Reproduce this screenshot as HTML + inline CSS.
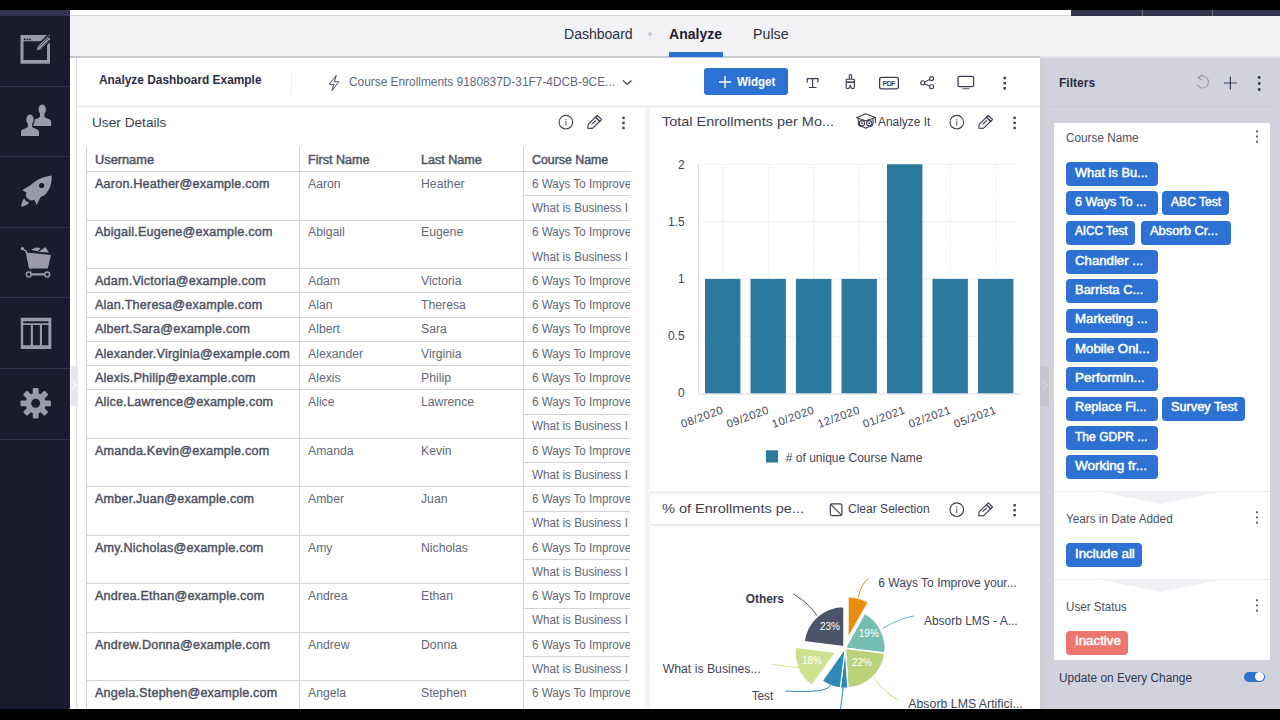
<!DOCTYPE html>
<html lang="en"><head><meta charset="utf-8"><title>Analyze Dashboard Example</title>
<style>
*{box-sizing:border-box;margin:0;padding:0}
html,body{width:1280px;height:720px;overflow:hidden}
body{position:relative;background:#fff;font-family:"Liberation Sans",sans-serif;font-size:12px;color:#5b6271}
.abs{position:absolute}
.t{position:absolute;white-space:nowrap;line-height:1}
#topblack{left:0;top:0;width:1280px;height:10px;background:#000}
#botblack{left:0;top:709px;width:1280px;height:11px;background:#000}
#side{left:0;top:10px;width:70px;height:699px;background:#1b1b2f}
#sidetop{left:0;top:10px;width:70px;height:6px;background:#34354d}
.sep{position:absolute;left:0;width:70px;height:1px;background:#30314a}
#nav{left:70px;top:16px;width:1210px;height:41px;background:#f3f3f6}
#navline{left:70px;top:56.4px;width:1210px;height:1.4px;background:#c9c9d0}
#topline{left:70px;top:15px;width:1001px;height:1px;background:#dadade}
#topdark{left:1071px;top:10px;width:209px;height:6px;background:#34354d}
#filters{left:1040px;top:58px;width:240px;height:651px;background:#d2d2dc}
#fcard{left:1054px;top:122.7px;width:216px;height:537px;background:#fff}
.chip{position:absolute;height:23px;border-radius:3px;background:#2d72d2;color:#fff;font-weight:bold;font-size:12px;line-height:23px;padding-left:9px;white-space:nowrap;overflow:hidden}
.hl{position:absolute;height:1px;background:#d6d6e1}
.vl{position:absolute;width:1px;background:#d6d6e1}
.cell{position:absolute;white-space:nowrap;line-height:1;font-size:12px}
.b{font-weight:bold;color:#4b5060}
</style></head>
<body>
<div class="abs" id="topblack"></div>
<div class="abs" id="side"></div><div class="abs" id="sidetop"></div>
<div class="sep" style="top:86px"></div>
<div class="sep" style="top:156px"></div>
<div class="sep" style="top:227px"></div>
<div class="sep" style="top:297px"></div>
<div class="sep" style="top:368px"></div>
<div class="sep" style="top:439px"></div>
<div class="abs" id="nav"></div><div class="abs" id="topline"></div><div class="abs" id="navline"></div>
<div class="abs" id="topdark"></div>
<div class="abs" style="left:1040px;top:56px;width:240px;height:2px;background:#e6e6ee"></div>
<div class="abs" style="left:1142px;top:10px;width:1px;height:6px;background:#6a6a72"></div>
<div class="abs" style="left:1212px;top:10px;width:1px;height:6px;background:#6a6a72"></div>
<div class="t" style="left:564.4px;top:26.95px;font-size:14px;color:#2a2d40;transform:scaleX(1.0015);transform-origin:0 0;">Dashboard</div>
<div class="abs" style="left:648px;top:32px;width:4px;height:4px;border-radius:2px;background:#c9c9cf"></div>
<div class="t" style="left:669px;top:26.95px;font-size:14px;color:#1d2033;font-weight:bold;transform:scaleX(1.0015);transform-origin:0 0;">Analyze</div>
<div class="t" style="left:752.8px;top:26.95px;font-size:14px;color:#2a2d40;transform:scaleX(1.0162);transform-origin:0 0;">Pulse</div>
<div class="abs" style="left:669px;top:52px;width:54px;height:5px;background:#2d72d2"></div>
<div class="abs" style="left:76px;top:58px;width:1px;height:651px;background:#dcdce2"></div>
<div class="abs" style="left:77px;top:104.8px;width:963px;height:2.8px;background:#f2f2f7"></div>
<div class="abs" style="left:645px;top:105px;width:5px;height:604px;background:#f3f3f8"></div>
<div class="abs" style="left:650px;top:491px;width:390px;height:3px;background:#f1f1f6"></div>
<div class="abs" style="left:650px;top:524px;width:390px;height:1.5px;background:#e9e9ef"></div>
<div class="t" style="left:98.7px;top:73.30px;font-size:13px;color:#2b2e44;font-weight:bold;transform:scaleX(0.9143);transform-origin:0 0;">Analyze Dashboard Example</div>
<div class="abs" style="left:291px;top:70px;width:1px;height:24px;background:#eeeef2"></div>
<div class="t" style="left:349px;top:75.84px;font-size:12px;color:#626878;transform:scaleX(0.9896);transform-origin:0 0;">Course Enrollments 9180837D-31F7-4DCB-9CE...</div>
<div class="abs" style="left:704px;top:68px;width:84px;height:27px;border-radius:3px;background:#2d72d2"></div>
<div class="t" style="left:737px;top:75.84px;font-size:12px;color:#fff;font-weight:bold;transform:scaleX(0.9626);transform-origin:0 0;">Widget</div>
<div class="t" style="left:91.9px;top:115.77px;font-size:13.5px;color:#3c4053;transform:scaleX(1.0118);transform-origin:0 0;">User Details</div>
<div class="t" style="left:661.8px;top:115.17px;font-size:13.5px;color:#3c4053;transform:scaleX(1.0711);transform-origin:0 0;">Total Enrollments per Mo...</div>
<div class="t" style="left:878.2px;top:115.52px;font-size:12.5px;color:#3c4053;transform:scaleX(0.9528);transform-origin:0 0;">Analyze It</div>
<div class="t" style="left:661.8px;top:501.57px;font-size:13.5px;color:#3c4053;transform:scaleX(1.0752);transform-origin:0 0;">% of Enrollments pe...</div>
<div class="t" style="left:848.4px;top:503.42px;font-size:12.5px;color:#3c4053;transform:scaleX(0.9627);transform-origin:0 0;">Clear Selection</div>
<div class="vl" style="left:86px;top:147px;height:562px;background:#d2d2db"></div>
<div class="vl" style="left:299px;top:147px;height:562px;background:#d2d2db"></div>
<div class="vl" style="left:523px;top:147px;height:562px;background:#d2d2db"></div>
<div class="hl" style="left:86px;top:171px;width:544px;height:1px;background:#cdcdd8"></div>
<div class="t" style="left:94.8px;top:153.84px;font-size:12px;color:#4f5465;-webkit-text-stroke:0.45px currentColor;transform:scaleX(1.0658);transform-origin:0 0;">Username</div>
<div class="t" style="left:307.6px;top:153.84px;font-size:12px;color:#4f5465;-webkit-text-stroke:0.45px currentColor;transform:scaleX(1.0482);transform-origin:0 0;">First Name</div>
<div class="t" style="left:421px;top:153.84px;font-size:12px;color:#4f5465;-webkit-text-stroke:0.45px currentColor;transform:scaleX(1.0477);transform-origin:0 0;">Last Name</div>
<div class="t" style="left:532.4px;top:153.84px;font-size:12px;color:#4f5465;-webkit-text-stroke:0.45px currentColor;transform:scaleX(1.0293);transform-origin:0 0;">Course Name</div>
<div class="abs" style="left:524px;top:171px;width:106px;height:538px;overflow:hidden">
<div class="t" style="left:8.4px;top:6.84px;color:#626878;transform:scaleX(0.972);transform-origin:0 0">6 Ways To Improve your Business</div>
<div class="t" style="left:8.4px;top:31.09px;color:#626878;transform:scaleX(0.972);transform-origin:0 0">What is Business I</div>
<div class="t" style="left:8.4px;top:55.34px;color:#626878;transform:scaleX(0.972);transform-origin:0 0">6 Ways To Improve your Business</div>
<div class="t" style="left:8.4px;top:79.59px;color:#626878;transform:scaleX(0.972);transform-origin:0 0">What is Business I</div>
<div class="t" style="left:8.4px;top:103.84px;color:#626878;transform:scaleX(0.972);transform-origin:0 0">6 Ways To Improve your Business</div>
<div class="t" style="left:8.4px;top:128.09px;color:#626878;transform:scaleX(0.972);transform-origin:0 0">6 Ways To Improve your Business</div>
<div class="t" style="left:8.4px;top:152.34px;color:#626878;transform:scaleX(0.972);transform-origin:0 0">6 Ways To Improve your Business</div>
<div class="t" style="left:8.4px;top:176.59px;color:#626878;transform:scaleX(0.972);transform-origin:0 0">6 Ways To Improve your Business</div>
<div class="t" style="left:8.4px;top:200.84px;color:#626878;transform:scaleX(0.972);transform-origin:0 0">6 Ways To Improve your Business</div>
<div class="t" style="left:8.4px;top:225.09px;color:#626878;transform:scaleX(0.972);transform-origin:0 0">6 Ways To Improve your Business</div>
<div class="t" style="left:8.4px;top:249.34px;color:#626878;transform:scaleX(0.972);transform-origin:0 0">What is Business I</div>
<div class="t" style="left:8.4px;top:273.59px;color:#626878;transform:scaleX(0.972);transform-origin:0 0">6 Ways To Improve your Business</div>
<div class="t" style="left:8.4px;top:297.84px;color:#626878;transform:scaleX(0.972);transform-origin:0 0">What is Business I</div>
<div class="t" style="left:8.4px;top:322.09px;color:#626878;transform:scaleX(0.972);transform-origin:0 0">6 Ways To Improve your Business</div>
<div class="t" style="left:8.4px;top:346.34px;color:#626878;transform:scaleX(0.972);transform-origin:0 0">What is Business I</div>
<div class="t" style="left:8.4px;top:370.59px;color:#626878;transform:scaleX(0.972);transform-origin:0 0">6 Ways To Improve your Business</div>
<div class="t" style="left:8.4px;top:394.84px;color:#626878;transform:scaleX(0.972);transform-origin:0 0">What is Business I</div>
<div class="t" style="left:8.4px;top:419.09px;color:#626878;transform:scaleX(0.972);transform-origin:0 0">6 Ways To Improve your Business</div>
<div class="t" style="left:8.4px;top:443.34px;color:#626878;transform:scaleX(0.972);transform-origin:0 0">What is Business I</div>
<div class="t" style="left:8.4px;top:467.59px;color:#626878;transform:scaleX(0.972);transform-origin:0 0">6 Ways To Improve your Business</div>
<div class="t" style="left:8.4px;top:491.84px;color:#626878;transform:scaleX(0.972);transform-origin:0 0">What is Business I</div>
<div class="t" style="left:8.4px;top:516.09px;color:#626878;transform:scaleX(0.972);transform-origin:0 0">6 Ways To Improve your Business</div>
</div>
<div class="t" style="left:95.2px;top:177.84px;-webkit-text-stroke:0.4px currentColor;letter-spacing:0.2px;color:#4b5062;transform:scaleX(1.048);transform-origin:0 0">Aaron.Heather@example.com</div>
<div class="t" style="left:307.6px;top:177.84px;color:#626878;transform:scaleX(1.02);transform-origin:0 0">Aaron</div>
<div class="t" style="left:421px;top:177.84px;color:#626878;transform:scaleX(1.02);transform-origin:0 0">Heather</div>
<div class="hl" style="left:523px;top:195.25px;width:107px;background:#d2d2db"></div>
<div class="hl" style="left:86px;top:219.50px;width:544px;background:#d2d2db"></div>
<div class="t" style="left:95.2px;top:226.34px;-webkit-text-stroke:0.4px currentColor;letter-spacing:0.2px;color:#4b5062;transform:scaleX(1.048);transform-origin:0 0">Abigail.Eugene@example.com</div>
<div class="t" style="left:307.6px;top:226.34px;color:#626878;transform:scaleX(1.02);transform-origin:0 0">Abigail</div>
<div class="t" style="left:421px;top:226.34px;color:#626878;transform:scaleX(1.02);transform-origin:0 0">Eugene</div>
<div class="hl" style="left:86px;top:268.00px;width:544px;background:#d2d2db"></div>
<div class="t" style="left:95.2px;top:274.84px;-webkit-text-stroke:0.4px currentColor;letter-spacing:0.2px;color:#4b5062;transform:scaleX(1.048);transform-origin:0 0">Adam.Victoria@example.com</div>
<div class="t" style="left:307.6px;top:274.84px;color:#626878;transform:scaleX(1.02);transform-origin:0 0">Adam</div>
<div class="t" style="left:421px;top:274.84px;color:#626878;transform:scaleX(1.02);transform-origin:0 0">Victoria</div>
<div class="hl" style="left:86px;top:292.25px;width:544px;background:#d2d2db"></div>
<div class="t" style="left:95.2px;top:299.09px;-webkit-text-stroke:0.4px currentColor;letter-spacing:0.2px;color:#4b5062;transform:scaleX(1.048);transform-origin:0 0">Alan.Theresa@example.com</div>
<div class="t" style="left:307.6px;top:299.09px;color:#626878;transform:scaleX(1.02);transform-origin:0 0">Alan</div>
<div class="t" style="left:421px;top:299.09px;color:#626878;transform:scaleX(1.02);transform-origin:0 0">Theresa</div>
<div class="hl" style="left:86px;top:316.50px;width:544px;background:#d2d2db"></div>
<div class="t" style="left:95.2px;top:323.34px;-webkit-text-stroke:0.4px currentColor;letter-spacing:0.2px;color:#4b5062;transform:scaleX(1.048);transform-origin:0 0">Albert.Sara@example.com</div>
<div class="t" style="left:307.6px;top:323.34px;color:#626878;transform:scaleX(1.02);transform-origin:0 0">Albert</div>
<div class="t" style="left:421px;top:323.34px;color:#626878;transform:scaleX(1.02);transform-origin:0 0">Sara</div>
<div class="hl" style="left:86px;top:340.75px;width:544px;background:#d2d2db"></div>
<div class="t" style="left:95.2px;top:347.59px;-webkit-text-stroke:0.4px currentColor;letter-spacing:0.2px;color:#4b5062;transform:scaleX(1.048);transform-origin:0 0">Alexander.Virginia@example.com</div>
<div class="t" style="left:307.6px;top:347.59px;color:#626878;transform:scaleX(1.02);transform-origin:0 0">Alexander</div>
<div class="t" style="left:421px;top:347.59px;color:#626878;transform:scaleX(1.02);transform-origin:0 0">Virginia</div>
<div class="hl" style="left:86px;top:365.00px;width:544px;background:#d2d2db"></div>
<div class="t" style="left:95.2px;top:371.84px;-webkit-text-stroke:0.4px currentColor;letter-spacing:0.2px;color:#4b5062;transform:scaleX(1.048);transform-origin:0 0">Alexis.Philip@example.com</div>
<div class="t" style="left:307.6px;top:371.84px;color:#626878;transform:scaleX(1.02);transform-origin:0 0">Alexis</div>
<div class="t" style="left:421px;top:371.84px;color:#626878;transform:scaleX(1.02);transform-origin:0 0">Philip</div>
<div class="hl" style="left:86px;top:389.25px;width:544px;background:#d2d2db"></div>
<div class="t" style="left:95.2px;top:396.09px;-webkit-text-stroke:0.4px currentColor;letter-spacing:0.2px;color:#4b5062;transform:scaleX(1.048);transform-origin:0 0">Alice.Lawrence@example.com</div>
<div class="t" style="left:307.6px;top:396.09px;color:#626878;transform:scaleX(1.02);transform-origin:0 0">Alice</div>
<div class="t" style="left:421px;top:396.09px;color:#626878;transform:scaleX(1.02);transform-origin:0 0">Lawrence</div>
<div class="hl" style="left:523px;top:413.50px;width:107px;background:#d2d2db"></div>
<div class="hl" style="left:86px;top:437.75px;width:544px;background:#d2d2db"></div>
<div class="t" style="left:95.2px;top:444.59px;-webkit-text-stroke:0.4px currentColor;letter-spacing:0.2px;color:#4b5062;transform:scaleX(1.048);transform-origin:0 0">Amanda.Kevin@example.com</div>
<div class="t" style="left:307.6px;top:444.59px;color:#626878;transform:scaleX(1.02);transform-origin:0 0">Amanda</div>
<div class="t" style="left:421px;top:444.59px;color:#626878;transform:scaleX(1.02);transform-origin:0 0">Kevin</div>
<div class="hl" style="left:523px;top:462.00px;width:107px;background:#d2d2db"></div>
<div class="hl" style="left:86px;top:486.25px;width:544px;background:#d2d2db"></div>
<div class="t" style="left:95.2px;top:493.09px;-webkit-text-stroke:0.4px currentColor;letter-spacing:0.2px;color:#4b5062;transform:scaleX(1.048);transform-origin:0 0">Amber.Juan@example.com</div>
<div class="t" style="left:307.6px;top:493.09px;color:#626878;transform:scaleX(1.02);transform-origin:0 0">Amber</div>
<div class="t" style="left:421px;top:493.09px;color:#626878;transform:scaleX(1.02);transform-origin:0 0">Juan</div>
<div class="hl" style="left:523px;top:510.50px;width:107px;background:#d2d2db"></div>
<div class="hl" style="left:86px;top:534.75px;width:544px;background:#d2d2db"></div>
<div class="t" style="left:95.2px;top:541.59px;-webkit-text-stroke:0.4px currentColor;letter-spacing:0.2px;color:#4b5062;transform:scaleX(1.048);transform-origin:0 0">Amy.Nicholas@example.com</div>
<div class="t" style="left:307.6px;top:541.59px;color:#626878;transform:scaleX(1.02);transform-origin:0 0">Amy</div>
<div class="t" style="left:421px;top:541.59px;color:#626878;transform:scaleX(1.02);transform-origin:0 0">Nicholas</div>
<div class="hl" style="left:523px;top:559.00px;width:107px;background:#d2d2db"></div>
<div class="hl" style="left:86px;top:583.25px;width:544px;background:#d2d2db"></div>
<div class="t" style="left:95.2px;top:590.09px;-webkit-text-stroke:0.4px currentColor;letter-spacing:0.2px;color:#4b5062;transform:scaleX(1.048);transform-origin:0 0">Andrea.Ethan@example.com</div>
<div class="t" style="left:307.6px;top:590.09px;color:#626878;transform:scaleX(1.02);transform-origin:0 0">Andrea</div>
<div class="t" style="left:421px;top:590.09px;color:#626878;transform:scaleX(1.02);transform-origin:0 0">Ethan</div>
<div class="hl" style="left:523px;top:607.50px;width:107px;background:#d2d2db"></div>
<div class="hl" style="left:86px;top:631.75px;width:544px;background:#d2d2db"></div>
<div class="t" style="left:95.2px;top:638.59px;-webkit-text-stroke:0.4px currentColor;letter-spacing:0.2px;color:#4b5062;transform:scaleX(1.048);transform-origin:0 0">Andrew.Donna@example.com</div>
<div class="t" style="left:307.6px;top:638.59px;color:#626878;transform:scaleX(1.02);transform-origin:0 0">Andrew</div>
<div class="t" style="left:421px;top:638.59px;color:#626878;transform:scaleX(1.02);transform-origin:0 0">Donna</div>
<div class="hl" style="left:523px;top:656.00px;width:107px;background:#d2d2db"></div>
<div class="hl" style="left:86px;top:680.25px;width:544px;background:#d2d2db"></div>
<div class="t" style="left:95.2px;top:687.09px;-webkit-text-stroke:0.4px currentColor;letter-spacing:0.2px;color:#4b5062;transform:scaleX(1.048);transform-origin:0 0">Angela.Stephen@example.com</div>
<div class="t" style="left:307.6px;top:687.09px;color:#626878;transform:scaleX(1.02);transform-origin:0 0">Angela</div>
<div class="t" style="left:421px;top:687.09px;color:#626878;transform:scaleX(1.02);transform-origin:0 0">Stephen</div>
<svg class="abs" style="left:650px;top:140px" width="390" height="350" viewBox="650 140 390 350" font-family='"Liberation Sans", sans-serif'><text x="684.6" y="397" text-anchor="end" font-size="12" fill="#3f4457">0</text><line x1="698.5" x2="1017" y1="336.2" y2="336.2" stroke="#d6d6de" stroke-width="1" stroke-dasharray="1 2"/><text x="684.6" y="340" text-anchor="end" font-size="12" fill="#3f4457">0.5</text><line x1="698.5" x2="1017" y1="278.9" y2="278.9" stroke="#d6d6de" stroke-width="1" stroke-dasharray="1 2"/><text x="684.6" y="283" text-anchor="end" font-size="12" fill="#3f4457">1</text><line x1="698.5" x2="1017" y1="221.6" y2="221.6" stroke="#d6d6de" stroke-width="1" stroke-dasharray="1 2"/><text x="684.6" y="226" text-anchor="end" font-size="12" fill="#3f4457">1.5</text><line x1="698.5" x2="1017" y1="164.3" y2="164.3" stroke="#d6d6de" stroke-width="1" stroke-dasharray="1 2"/><text x="684.6" y="169" text-anchor="end" font-size="12" fill="#3f4457">2</text><line x1="722.75" x2="722.75" y1="164.3" y2="393.5" stroke="#d6d6de" stroke-width="1" stroke-dasharray="1 2"/><line x1="768.25" x2="768.25" y1="164.3" y2="393.5" stroke="#d6d6de" stroke-width="1" stroke-dasharray="1 2"/><line x1="813.75" x2="813.75" y1="164.3" y2="393.5" stroke="#d6d6de" stroke-width="1" stroke-dasharray="1 2"/><line x1="859.25" x2="859.25" y1="164.3" y2="393.5" stroke="#d6d6de" stroke-width="1" stroke-dasharray="1 2"/><line x1="904.75" x2="904.75" y1="164.3" y2="393.5" stroke="#d6d6de" stroke-width="1" stroke-dasharray="1 2"/><line x1="950.25" x2="950.25" y1="164.3" y2="393.5" stroke="#d6d6de" stroke-width="1" stroke-dasharray="1 2"/><line x1="995.75" x2="995.75" y1="164.3" y2="393.5" stroke="#d6d6de" stroke-width="1" stroke-dasharray="1 2"/><rect x="705.0" y="278.9" width="35.4" height="114.6" fill="#2b7a9e"/><text transform="translate(724.2,412.9) rotate(-20)" text-anchor="end" font-size="11.2" letter-spacing="0.55" fill="#3f4457">08/2020</text><rect x="750.5" y="278.9" width="35.4" height="114.6" fill="#2b7a9e"/><text transform="translate(769.8,412.9) rotate(-20)" text-anchor="end" font-size="11.2" letter-spacing="0.55" fill="#3f4457">09/2020</text><rect x="796.0" y="278.9" width="35.4" height="114.6" fill="#2b7a9e"/><text transform="translate(815.2,412.9) rotate(-20)" text-anchor="end" font-size="11.2" letter-spacing="0.55" fill="#3f4457">10/2020</text><rect x="841.5" y="278.9" width="35.4" height="114.6" fill="#2b7a9e"/><text transform="translate(860.8,412.9) rotate(-20)" text-anchor="end" font-size="11.2" letter-spacing="0.55" fill="#3f4457">12/2020</text><rect x="887.0" y="164.3" width="35.4" height="229.2" fill="#2b7a9e"/><text transform="translate(906.2,412.9) rotate(-20)" text-anchor="end" font-size="11.2" letter-spacing="0.55" fill="#3f4457">01/2021</text><rect x="932.5" y="278.9" width="35.4" height="114.6" fill="#2b7a9e"/><text transform="translate(951.8,412.9) rotate(-20)" text-anchor="end" font-size="11.2" letter-spacing="0.55" fill="#3f4457">02/2021</text><rect x="978.0" y="278.9" width="35.4" height="114.6" fill="#2b7a9e"/><text transform="translate(997.2,412.9) rotate(-20)" text-anchor="end" font-size="11.2" letter-spacing="0.55" fill="#3f4457">05/2021</text><line x1="698.5" x2="698.5" y1="164.3" y2="393.5" stroke="#d9d9e2" stroke-width="1"/><line x1="698.5" x2="1021" y1="394.0" y2="394.0" stroke="#d9d9e2" stroke-width="1"/><rect x="766" y="450.3" width="12" height="12.2" fill="#2b7a9e"/><text x="785.8" y="461.8" font-size="12" fill="#3f4457">#&#160;of unique Course Name</text></svg>
<svg class="abs" style="left:650px;top:528px" width="390" height="181" viewBox="650 528 390 181" font-family='"Liberation Sans", sans-serif'><path d="M848.23,637.08L848.23,597.08A40,40 0 0 1 867.92,602.26Z" fill="#e88d0e" stroke="#fff" stroke-width="0.8" stroke-linejoin="round"/><path d="M845.30,648.20L864.57,613.15A40,40 0 0 1 884.98,653.21Z" fill="#74bfb1" stroke="#fff" stroke-width="1.6" stroke-linejoin="round"/><path d="M845.30,648.20L884.98,653.21A40,40 0 0 1 847.81,688.12Z" fill="#bad27a" stroke="#fff" stroke-width="1.6" stroke-linejoin="round"/><path d="M845.30,648.20L847.81,688.12A40,40 0 0 1 840.29,687.88Z" fill="#2e88b8" stroke="#fff" stroke-width="1.2" stroke-linejoin="round"/><path d="M845.30,648.20L840.29,687.88A40,40 0 0 1 822.36,680.97Z" fill="#2e88b8" stroke="#fff" stroke-width="1.2" stroke-linejoin="round"/><path d="M835.20,652.57L811.69,684.93A40,40 0 0 1 795.52,647.56Z" fill="#cfe190" stroke="#fff" stroke-width="0.8" stroke-linejoin="round"/><path d="M843.85,646.55L804.16,641.54A40,40 0 0 1 843.85,606.55Z" fill="#4d5469" stroke="#fff" stroke-width="1.2" stroke-linejoin="round"/><path d="M858.5,597 C860,589 863,583 868.5,578.3" fill="none" stroke="#e88d0e" stroke-width="1"/><path d="M882.5,628.5 C892,623 902,618 914,616" fill="none" stroke="#6fb4c4" stroke-width="1"/><path d="M873.5,677 C879,685 887,694 897.5,699.5" fill="none" stroke="#cfdc86" stroke-width="1"/><path d="M843.3,686.5 C842.5,694 841.5,702 840.5,709" fill="none" stroke="#2e88b8" stroke-width="1"/><path d="M830.5,685 C828,691 812,692.5 785.5,691" fill="none" stroke="#2e88b8" stroke-width="1"/><path d="M798.5,667.7 C790,667 782,665.5 771.7,664.3" fill="none" stroke="#d5e39b" stroke-width="1"/><path d="M817,615.7 C811,607 805,601 793.3,594" fill="none" stroke="#4d5469" stroke-width="1"/><text x="830" y="629.5" text-anchor="middle" font-size="10" fill="#fff">23%</text><text x="868.8" y="636.8" text-anchor="middle" font-size="10" fill="#fff">19%</text><text x="862" y="665.8" text-anchor="middle" font-size="10" fill="#fff">22%</text><text x="812" y="663.5" text-anchor="middle" font-size="10" fill="#fff">18%</text><text x="745.7" y="602.7" font-size="12" font-weight="bold" fill="#33374b" textLength="38.3" lengthAdjust="spacingAndGlyphs">Others</text><text x="878.3" y="586.7" font-size="12" fill="#3f4457" textLength="138.4" lengthAdjust="spacingAndGlyphs">6 Ways To Improve your...</text><text x="924" y="625" font-size="12" fill="#3f4457" textLength="93.7" lengthAdjust="spacingAndGlyphs">Absorb LMS - A...</text><text x="908.3" y="707.7" font-size="12" fill="#3f4457" textLength="114.4" lengthAdjust="spacingAndGlyphs">Absorb LMS Artifici...</text><text x="662.7" y="673.3" font-size="12" fill="#3f4457" textLength="98" lengthAdjust="spacingAndGlyphs">What is Busines...</text><text x="751.7" y="700" font-size="12" fill="#3f4457" textLength="21.6" lengthAdjust="spacingAndGlyphs">Test</text></svg>
<div class="abs" id="filters"></div><div class="abs" id="fcard"></div>
<div class="abs" style="left:1040px;top:58px;width:3.5px;height:651px;background:#d0d0d2"></div>
<div class="abs" style="left:1050px;top:105.7px;width:222px;height:1.3px;background:#c9c9d3"></div>
<div class="t" style="left:1059.2px;top:76.00px;font-size:13px;color:#2b2e44;font-weight:bold;transform:scaleX(0.9278);transform-origin:0 0;">Filters</div>
<div class="t" style="left:1065.9px;top:131.54px;font-size:12px;color:#4a4f60;transform:scaleX(0.9807);transform-origin:0 0;">Course Name</div>
<div class="t" style="left:1066px;top:512.64px;font-size:12px;color:#4a4f60;transform:scaleX(0.9790);transform-origin:0 0;">Years in Date Added</div>
<div class="t" style="left:1066px;top:600.54px;font-size:12px;color:#4a4f60;transform:scaleX(0.9696);transform-origin:0 0;">User Status</div>
<div class="t" style="left:1059.1px;top:671.74px;font-size:12px;color:#33374b;transform:scaleX(0.9869);transform-origin:0 0;">Update on Every Change</div>
<div class="abs" style="left:1065.9px;top:162.00px;width:92.1px;height:24px;border-radius:4px;background:#2d72d2"></div>
<div class="t" style="left:1074.7px;top:166.64px;font-size:12px;color:#fff;-webkit-text-stroke:0.45px currentColor;transform:scaleX(1.0701);transform-origin:0 0;">What is Bu...</div>
<div class="abs" style="left:1065.9px;top:191.32px;width:92.1px;height:24px;border-radius:4px;background:#2d72d2"></div>
<div class="t" style="left:1074.7px;top:195.96px;font-size:12px;color:#fff;-webkit-text-stroke:0.45px currentColor;transform:scaleX(1.0407);transform-origin:0 0;">6 Ways To ...</div>
<div class="abs" style="left:1162.3px;top:191.32px;width:66.8px;height:24px;border-radius:4px;background:#2d72d2"></div>
<div class="t" style="left:1171.1px;top:195.96px;font-size:12px;color:#fff;-webkit-text-stroke:0.45px currentColor;transform:scaleX(1.0078);transform-origin:0 0;">ABC Test</div>
<div class="abs" style="left:1065.9px;top:220.64px;width:69px;height:24px;border-radius:4px;background:#2d72d2"></div>
<div class="t" style="left:1074.7px;top:225.28px;font-size:12px;color:#fff;-webkit-text-stroke:0.45px currentColor;transform:scaleX(0.9778);transform-origin:0 0;">AICC Test</div>
<div class="abs" style="left:1141.2px;top:220.64px;width:89.7px;height:24px;border-radius:4px;background:#2d72d2"></div>
<div class="t" style="left:1150.0px;top:225.28px;font-size:12px;color:#fff;-webkit-text-stroke:0.45px currentColor;transform:scaleX(1.0732);transform-origin:0 0;">Absorb Cr...</div>
<div class="abs" style="left:1065.9px;top:249.96px;width:92.1px;height:24px;border-radius:4px;background:#2d72d2"></div>
<div class="t" style="left:1074.7px;top:254.60px;font-size:12px;color:#fff;-webkit-text-stroke:0.45px currentColor;transform:scaleX(1.1008);transform-origin:0 0;">Chandler ...</div>
<div class="abs" style="left:1065.9px;top:279.28px;width:92.1px;height:24px;border-radius:4px;background:#2d72d2"></div>
<div class="t" style="left:1074.7px;top:283.92px;font-size:12px;color:#fff;-webkit-text-stroke:0.45px currentColor;transform:scaleX(1.0780);transform-origin:0 0;">Barrista C...</div>
<div class="abs" style="left:1065.9px;top:308.60px;width:92.1px;height:24px;border-radius:4px;background:#2d72d2"></div>
<div class="t" style="left:1074.7px;top:313.24px;font-size:12px;color:#fff;-webkit-text-stroke:0.45px currentColor;transform:scaleX(1.1025);transform-origin:0 0;">Marketing ...</div>
<div class="abs" style="left:1065.9px;top:337.92px;width:92.1px;height:24px;border-radius:4px;background:#2d72d2"></div>
<div class="t" style="left:1074.7px;top:342.56px;font-size:12px;color:#fff;-webkit-text-stroke:0.45px currentColor;transform:scaleX(1.1075);transform-origin:0 0;">Mobile Onl...</div>
<div class="abs" style="left:1065.9px;top:367.24px;width:92.1px;height:24px;border-radius:4px;background:#2d72d2"></div>
<div class="t" style="left:1074.7px;top:371.88px;font-size:12px;color:#fff;-webkit-text-stroke:0.45px currentColor;transform:scaleX(1.1239);transform-origin:0 0;">Performin...</div>
<div class="abs" style="left:1065.9px;top:396.56px;width:92.1px;height:24px;border-radius:4px;background:#2d72d2"></div>
<div class="t" style="left:1074.7px;top:401.20px;font-size:12px;color:#fff;-webkit-text-stroke:0.45px currentColor;transform:scaleX(1.0615);transform-origin:0 0;">Replace Fi...</div>
<div class="abs" style="left:1162.3px;top:396.56px;width:82.7px;height:24px;border-radius:4px;background:#2d72d2"></div>
<div class="t" style="left:1171.1px;top:401.20px;font-size:12px;color:#fff;-webkit-text-stroke:0.45px currentColor;transform:scaleX(1.0611);transform-origin:0 0;">Survey Test</div>
<div class="abs" style="left:1065.9px;top:425.88px;width:92.1px;height:24px;border-radius:4px;background:#2d72d2"></div>
<div class="t" style="left:1074.7px;top:430.52px;font-size:12px;color:#fff;-webkit-text-stroke:0.45px currentColor;transform:scaleX(1.0051);transform-origin:0 0;">The GDPR ...</div>
<div class="abs" style="left:1065.9px;top:455.20px;width:92.1px;height:24px;border-radius:4px;background:#2d72d2"></div>
<div class="t" style="left:1074.7px;top:459.84px;font-size:12px;color:#fff;-webkit-text-stroke:0.45px currentColor;transform:scaleX(1.1270);transform-origin:0 0;">Working fr...</div>
<div class="abs" style="left:1065.9px;top:542.90px;width:76.1px;height:24px;border-radius:4px;background:#2d72d2"></div>
<div class="t" style="left:1074.7px;top:547.54px;font-size:12px;color:#fff;-webkit-text-stroke:0.45px currentColor;transform:scaleX(1.1064);transform-origin:0 0;">Include all</div>
<div class="abs" style="left:1065.9px;top:630.80px;width:62.1px;height:24px;border-radius:4px;background:#ee7671"></div>
<div class="t" style="left:1074.7px;top:635.44px;font-size:12px;color:#fff;-webkit-text-stroke:0.45px currentColor;transform:scaleX(1.1098);transform-origin:0 0;">Inactive</div>
<div class="abs" style="left:1054px;top:491px;width:216px;height:1px;background:#ececf1"></div>
<svg class="abs" style="left:1097px;top:491px" width="128" height="14"><path d="M0,0H128L64,13Z" fill="#f0f0f5"/></svg>
<div class="abs" style="left:1054px;top:578.5px;width:216px;height:1px;background:#ececf1"></div>
<svg class="abs" style="left:1097px;top:578.5px" width="128" height="14"><path d="M0,0H128L64,13Z" fill="#f0f0f5"/></svg>
<div class="abs" style="left:1244px;top:671.5px;width:21px;height:10.5px;border-radius:6px;background:#2d72d2"></div>
<div class="abs" style="left:1255.3px;top:672.3px;width:9px;height:9px;border-radius:5px;background:#fff"></div>
<svg class="abs" style="left:0;top:16px" width="70" height="440" viewBox="0 16 70 440"><path d="M20.5,35H50V63.7H20.5Z M23.5,41.2V60H47V41.2Z" fill="#9a9aab" fill-rule="evenodd"/><rect x="24" y="38.6" width="1.6" height="1.6" fill="#1b1b2f"/><rect x="26.6" y="38.6" width="1.6" height="1.6" fill="#1b1b2f"/><rect x="29.2" y="38.6" width="1.6" height="1.6" fill="#1b1b2f"/><path d="M35.8,51.3L37.1,46L47.6,35.5L51.6,39.4L41.1,50Z" fill="#9a9aab" stroke="#1b1b2f" stroke-width="1.6" stroke-linejoin="round"/><path d="M38.6,47.3L47.4,38.4M40.2,48.9L49,40M45.6,37.4L49.7,41.4" stroke="#1b1b2f" stroke-width="0.6" fill="none"/><ellipse cx="42.2" cy="109.5" rx="3.7" ry="5" fill="#9a9aab"/><path d="M40.0,112.5V117.0C38.2,118.5 33.7,119.0 33.2,121.5V126.0H51.2V121.5C50.7,119.0 46.2,118.5 44.400000000000006,117.0V112.5Z" fill="#9a9aab"/><g stroke="#1b1b2f" stroke-width="2.2"><ellipse cx="30" cy="119.5" rx="3.7" ry="5" fill="#9a9aab"/><path d="M27.8,122.5V127.0C26,128.5 21.5,129.0 21,131.5V136.0H39V131.5C38.5,129.0 34,128.5 32.2,127.0V122.5Z" fill="#9a9aab"/></g><ellipse cx="30" cy="119.5" rx="3.7" ry="5" fill="#9a9aab"/><path d="M27.8,122.5V127.0C26,128.5 21.5,129.0 21,131.5V136.0H39V131.5C38.5,129.0 34,128.5 32.2,127.0V122.5Z" fill="#9a9aab"/><path d="M51.7,175.4C44,176.2 35.5,180 30.8,185.1L22.2,190.3L26.7,192.8C25.8,194 25.6,195.2 26,196.3C27,198.5 29,200 30.8,200.4C32,200.6 33.2,200.3 34.3,199.7L36.7,204.9L40.6,196.9C46,196 52.5,187 51.7,175.4Z" fill="#9a9aab"/><circle cx="41.6" cy="185.5" r="2.6" fill="#1b1b2f"/><path d="M24.2,198.3C22.5,200.5 21.5,203.5 21.1,206.7C24.3,206.2 27.3,205 29.4,202.5C27,202.3 25,200.8 24.2,198.3Z" fill="#9a9aab"/><path d="M26.7,252.6L51,255L47.8,268.6H29.1Z" fill="#9a9aab"/><path d="M22.5,248.8L26.2,251.2L29.8,268" stroke="#9a9aab" stroke-width="1.6" fill="none" stroke-linecap="round"/><circle cx="22.4" cy="248.6" r="1.6" fill="#9a9aab"/><path d="M30.8,249.8L36,247.4L40.6,248.1L37.8,251.2Z" fill="#9a9aab"/><path d="M38.5,252L45.4,247.1L48.9,252.6Z" fill="#9a9aab"/><path d="M31.2,268V273.3H45V275.6H30Z" fill="#9a9aab"/><circle cx="28.8" cy="274.5" r="2.4" fill="#1b1b2f" stroke="#9a9aab" stroke-width="1.5"/><circle cx="47.2" cy="274.5" r="2.4" fill="#1b1b2f" stroke="#9a9aab" stroke-width="1.5"/><path d="M20.8,317.8H51.3V349H20.8Z M23.2,321.2V323.2H48.4V321.2Z M23.2,325V345.2H30.8V325Z M32.9,325V345.2H39.9V325Z M42,325V345.2H48.4V325Z" fill="#9a9aab" fill-rule="evenodd"/><g transform="translate(35.7,403.3)" fill="#9a9aab"><rect x="-2.9" y="-15.2" width="5.8" height="8" rx="1.2" transform="rotate(0)"/><rect x="-2.9" y="-15.2" width="5.8" height="8" rx="1.2" transform="rotate(45)"/><rect x="-2.9" y="-15.2" width="5.8" height="8" rx="1.2" transform="rotate(90)"/><rect x="-2.9" y="-15.2" width="5.8" height="8" rx="1.2" transform="rotate(135)"/><rect x="-2.9" y="-15.2" width="5.8" height="8" rx="1.2" transform="rotate(180)"/><rect x="-2.9" y="-15.2" width="5.8" height="8" rx="1.2" transform="rotate(225)"/><rect x="-2.9" y="-15.2" width="5.8" height="8" rx="1.2" transform="rotate(270)"/><rect x="-2.9" y="-15.2" width="5.8" height="8" rx="1.2" transform="rotate(315)"/><circle r="10.2"/><circle r="4.5" fill="#1b1b2f"/></g></svg>
<div class="abs" style="left:71px;top:366px;width:6.5px;height:40px;background:#e6e6ea"></div>
<svg class="abs" style="left:71px;top:378px" width="8" height="14"><path d="M1.5,3L5,7L1.5,11" stroke="#fff" stroke-width="1.3" fill="none"/></svg>
<svg class="abs" style="left:76px;top:58px" width="1204" height="651" viewBox="76 58 1204 651" font-family='"Liberation Sans", sans-serif'><path d="M336.3,75.3L329.3,84.3H333.9L331.9,90.6L338.9,81.7H334.4Z" fill="none" stroke="#4a4e62" stroke-width="1" stroke-linejoin="round"/><path d="M623,80.5L627.2,84.5L631.4,80.5" fill="none" stroke="#3b3f55" stroke-width="1.2"/><path d="M719,82H731M725,76V88" stroke="#fff" stroke-width="1.4"/><path d="M807.3,82.6V78.7H817.9V82.6M812.6,78.7V87.5M808.8,87.5H816.6" fill="none" stroke="#3b3f55" stroke-width="1.2"/><path d="M849.3,79V75.3Q850.5,73.8 851.6,75.3V79" fill="none" stroke="#3b3f55" stroke-width="1.1"/><path d="M846.2,79.2H854.4V87.2Q854.4,88.6 852.6,88.4L851.4,88.2L850.3,85.2L849.2,88.2L848,88.4Q846.2,88.6 846.2,87.2Z" fill="none" stroke="#3b3f55" stroke-width="1.1" stroke-linejoin="round"/><path d="M846.2,82.2H854.4" stroke="#3b3f55" stroke-width="1.6"/><rect x="879.6" y="77.4" width="18.8" height="11.4" rx="2" fill="none" stroke="#3b3f55" stroke-width="1.3"/><text x="889" y="86" text-anchor="middle" font-size="7" font-weight="bold" fill="#3b3f55" textLength="13">PDF</text><path d="M924.5,82L929.8,79.5M924.5,83.7L929.8,86" stroke="#3b3f55" stroke-width="1.1"/><circle cx="922.7" cy="82.8" r="2" fill="#fff" stroke="#3b3f55" stroke-width="1.1"/><circle cx="931.6" cy="78.6" r="2" fill="#fff" stroke="#3b3f55" stroke-width="1.1"/><circle cx="931.6" cy="86.8" r="2" fill="#fff" stroke="#3b3f55" stroke-width="1.1"/><rect x="958" y="76.4" width="15.6" height="10.2" rx="1.6" fill="none" stroke="#3b3f55" stroke-width="1.3"/><path d="M962.4,88.6H969.4" stroke="#7a7d8e" stroke-width="1.3"/><rect x="1003.45" y="76.75" width="2.5" height="2.5" fill="#3b3f55"/><rect x="1003.45" y="81.95" width="2.5" height="2.5" fill="#3b3f55"/><rect x="1003.45" y="87.05" width="2.5" height="2.5" fill="#3b3f55"/><circle cx="565.9" cy="122.2" r="6.8" fill="none" stroke="#3b3f55" stroke-width="1.1"/><rect x="565.3" y="118.9" width="1.2" height="1.3" fill="#6a6e80"/><rect x="565.3" y="121.0" width="1.2" height="4.6" fill="#6a6e80"/><g transform="translate(0.0,0.0)" fill="none" stroke="#3b3f55" stroke-width="1.15" stroke-linejoin="round" stroke-linecap="round"><path d="M587.7,128.3L588.2,124.3L597.3,115.3L601.5,119.5L592.4,128.4Z"/><path d="M591.9,123.9L595.6,120.7"/><path d="M595.4,117.2L599.7,121.4" stroke-width="1.5"/></g><rect x="622.30" y="116.70" width="2.4" height="2.4" fill="#3b3f55"/><rect x="622.30" y="121.70" width="2.4" height="2.4" fill="#3b3f55"/><rect x="622.30" y="126.80" width="2.4" height="2.4" fill="#3b3f55"/><circle cx="956.8" cy="122.2" r="6.8" fill="none" stroke="#3b3f55" stroke-width="1.1"/><rect x="956.1999999999999" y="118.9" width="1.2" height="1.3" fill="#6a6e80"/><rect x="956.1999999999999" y="121.0" width="1.2" height="4.6" fill="#6a6e80"/><g transform="translate(391.0,0.0)" fill="none" stroke="#3b3f55" stroke-width="1.15" stroke-linejoin="round" stroke-linecap="round"><path d="M587.7,128.3L588.2,124.3L597.3,115.3L601.5,119.5L592.4,128.4Z"/><path d="M591.9,123.9L595.6,120.7"/><path d="M595.4,117.2L599.7,121.4" stroke-width="1.5"/></g><rect x="1013.40" y="116.70" width="2.4" height="2.4" fill="#3b3f55"/><rect x="1013.40" y="121.70" width="2.4" height="2.4" fill="#3b3f55"/><rect x="1013.40" y="126.80" width="2.4" height="2.4" fill="#3b3f55"/><circle cx="956.8" cy="509.7" r="6.8" fill="none" stroke="#3b3f55" stroke-width="1.1"/><rect x="956.1999999999999" y="506.4" width="1.2" height="1.3" fill="#6a6e80"/><rect x="956.1999999999999" y="508.5" width="1.2" height="4.6" fill="#6a6e80"/><g transform="translate(391.0,387.5)" fill="none" stroke="#3b3f55" stroke-width="1.15" stroke-linejoin="round" stroke-linecap="round"><path d="M587.7,128.3L588.2,124.3L597.3,115.3L601.5,119.5L592.4,128.4Z"/><path d="M591.9,123.9L595.6,120.7"/><path d="M595.4,117.2L599.7,121.4" stroke-width="1.5"/></g><rect x="1013.40" y="504.10" width="2.4" height="2.4" fill="#3b3f55"/><rect x="1013.40" y="509.00" width="2.4" height="2.4" fill="#3b3f55"/><rect x="1013.40" y="514.00" width="2.4" height="2.4" fill="#3b3f55"/><g fill="none" stroke="#3b3f55" stroke-width="1.1" stroke-linejoin="round" stroke-linecap="round"><path d="M856.4,117.8L865.7,113.7L875.4,117.5L865.7,120.7Z"/><path d="M875.4,117.6V122.8"/><path d="M858.3,119V123.5C858.3,126 861.5,127 864.3,127.3L865.7,128.4L867.1,127.3C870,127 873,126 873,123.5V119.2"/><circle cx="862" cy="123.2" r="2.6"/><circle cx="869.2" cy="123.2" r="2.6"/></g><circle cx="862" cy="123.2" r="0.9" fill="#3b3f55"/><circle cx="869.2" cy="123.2" r="0.9" fill="#3b3f55"/><rect x="830.3" y="503.8" width="11.6" height="11.8" rx="1.8" fill="none" stroke="#3b3f55" stroke-width="1.2"/><path d="M830.8,504.3L841.4,515.2" stroke="#3b3f55" stroke-width="1.1"/><path d="M1198.3,77.6A6,6 0 1 1 1197.2,84.8" fill="none" stroke="#9b9ba7" stroke-width="1.1"/><path d="M1202.2,74.6L1198.2,77.4L1201.6,80" fill="none" stroke="#9b9ba7" stroke-width="1.1"/><path d="M1224,83H1236.8M1230.4,76.6V89.4" stroke="#3b3f55" stroke-width="1.2"/><rect x="1257.95" y="76.15" width="2.5" height="2.5" fill="#2b2e44"/><rect x="1257.95" y="82.25" width="2.5" height="2.5" fill="#2b2e44"/><rect x="1257.95" y="88.25" width="2.5" height="2.5" fill="#2b2e44"/><rect x="1256.05" y="130.45" width="1.9" height="1.9" fill="#555a6c"/><rect x="1256.05" y="135.55" width="1.9" height="1.9" fill="#555a6c"/><rect x="1256.05" y="140.75" width="1.9" height="1.9" fill="#555a6c"/><rect x="1256.05" y="511.35" width="1.9" height="1.9" fill="#555a6c"/><rect x="1256.05" y="516.45" width="1.9" height="1.9" fill="#555a6c"/><rect x="1256.05" y="521.65" width="1.9" height="1.9" fill="#555a6c"/><rect x="1256.05" y="599.35" width="1.9" height="1.9" fill="#555a6c"/><rect x="1256.05" y="604.45" width="1.9" height="1.9" fill="#555a6c"/><rect x="1256.05" y="609.65" width="1.9" height="1.9" fill="#555a6c"/><rect x="1040" y="366" width="9" height="40" fill="#c5c5d1"/><path d="M1043,380.5L1047,385.5L1043,390.5" fill="none" stroke="#d8d8e0" stroke-width="1.2"/></svg>
<div class="abs" id="botblack"></div>
</body></html>
